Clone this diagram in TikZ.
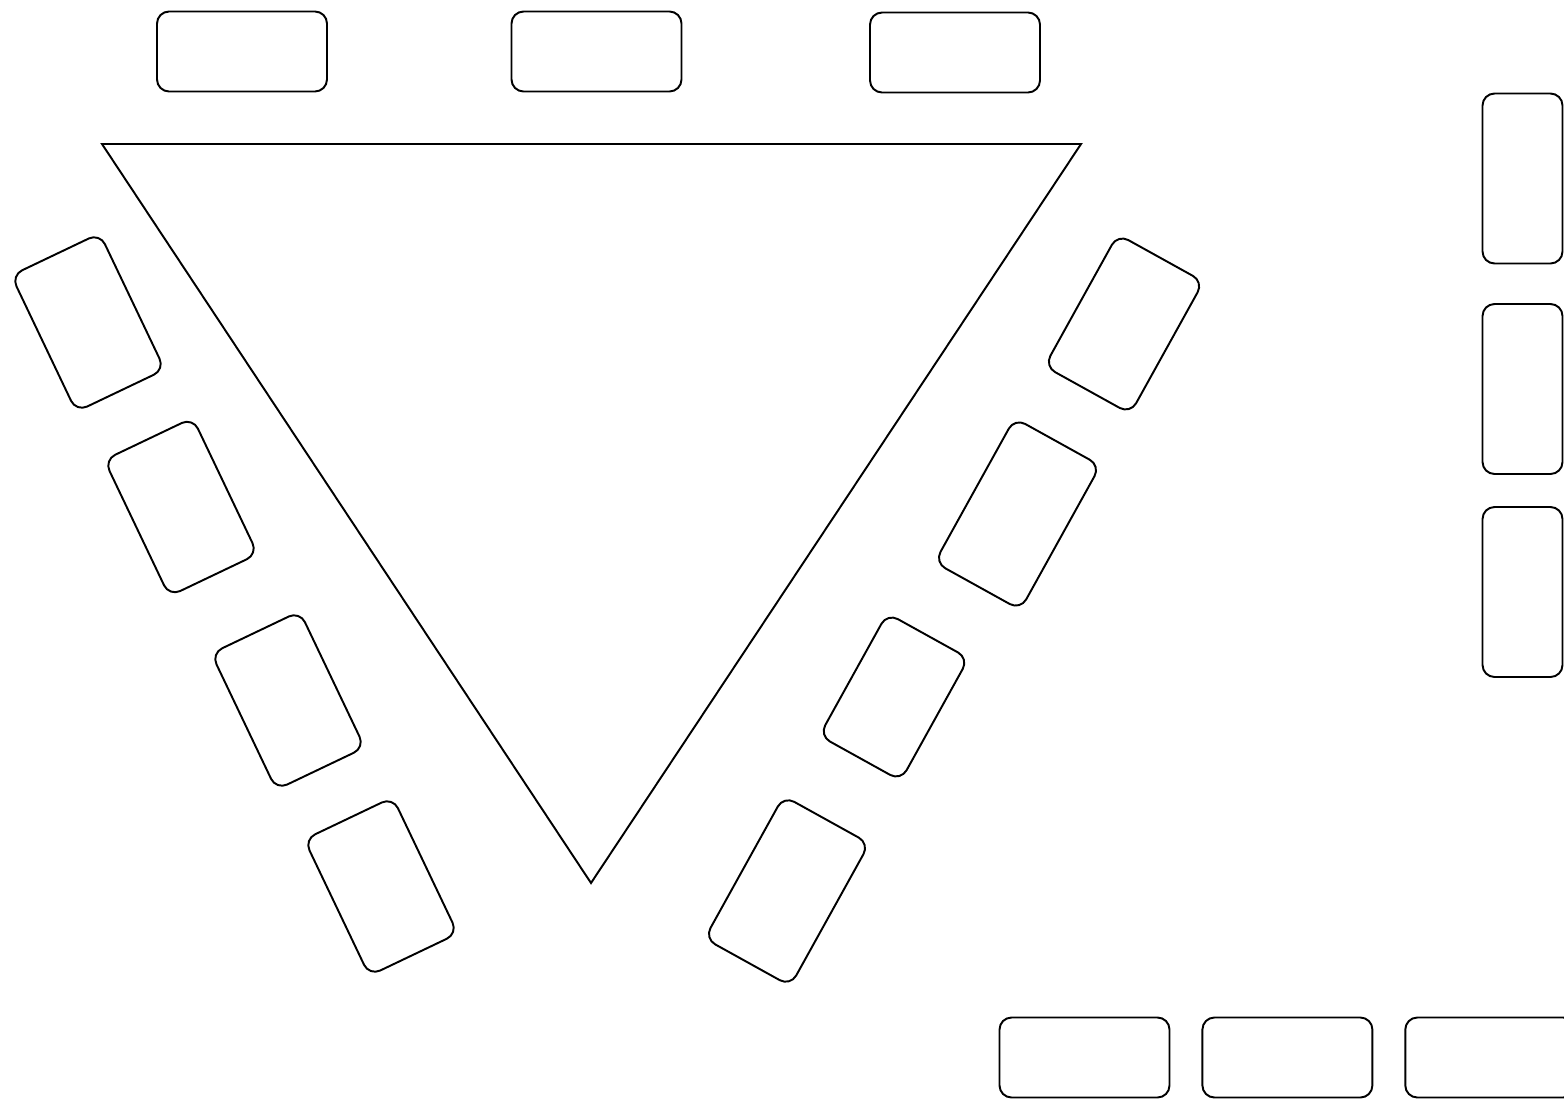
\documentclass[tikz,border=0pt]{standalone}
\usepackage{tikz}
\usetikzlibrary{positioning}
\tikzset{
  desk/.style={rectangle, draw, line width=1.1pt, rounded corners=0.24cm, inner sep=0pt, minimum width=3.4cm, minimum height=1.6cm},
  deskv/.style={desk, rotate=90},
  seatl/.style={desk, minimum width=1.96cm, minimum height=3.02cm, rotate=25.5},
  seatr/.style={desk, minimum width=1.96cm, minimum height=3.02cm, rotate=-29},
  stage/.style={draw, line width=1.1pt, line join=miter},
}

\begin{document}
\begin{tikzpicture}[x=0.02cm, y=-0.02cm]
  \clip (0,0) rectangle (1564,1099);

  % Top row
  \node[desk] (top1) at (242,51.5) {};
  \node[desk] (top2) at (596.5,51.5) {};
  \node[desk] (top3) at (955,52.5) {};

  % Stage
  \coordinate (tl) at (102,144);
  \coordinate (tr) at (1081,144);
  \coordinate (tip) at (591,883);
  \draw[stage] (tl) -- (tr) -- (tip) -- cycle;

  % Left side
  \node[seatl] (left1) at (88,322.5) {};
  \node[seatl] (left2) at (181,507) {};
  \node[seatl] (left3) at (288,700.5) {};
  \node[seatl] (left4) at (381,886.5) {};

  % Right side
  \node[seatr] (right1) at (1124,324) {};
  \node[seatr, minimum height=3.3cm] (right2) at (1017.5,514) {};
  \node[seatr, minimum width=1.86cm, minimum height=2.8cm] (right3) at (894,697) {};
  \node[seatr, minimum height=3.26cm] (right4) at (787,891) {};

  % Right column
  \node[deskv] (col1) at (1522.5,178.5) {};
  \node[deskv] (col2) at (1522.5,389) {};
  \node[deskv] (col3) at (1522.5,592) {};

  % Bottom row
  \node[desk] (bot1) at (1084.5,1057.5) {};
  \node[desk, right=0.62cm of bot1] (bot2) {};
  \node[desk, right=0.62cm of bot2] (bot3) {};

\end{tikzpicture}
\end{document}
